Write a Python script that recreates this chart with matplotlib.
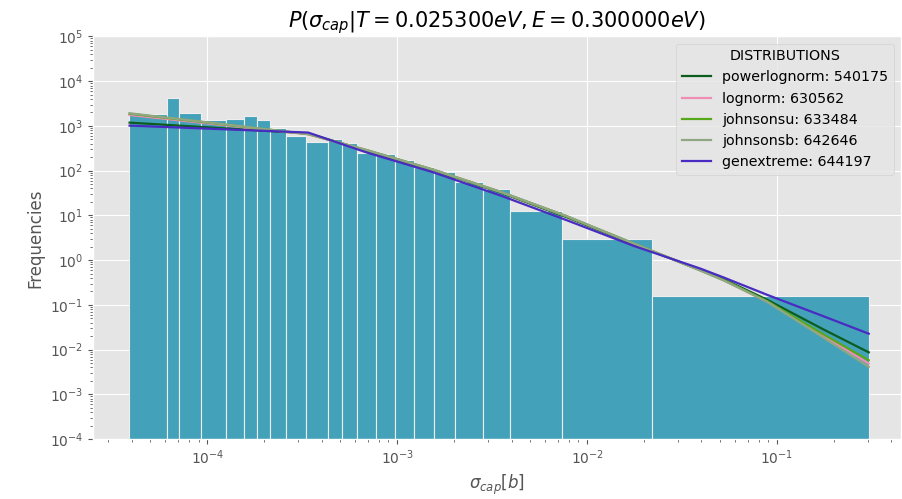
import matplotlib
matplotlib.use("Agg")
from matplotlib import pyplot as plt
import numpy as np

plt.style.use("ggplot")

# histogram bins (sigma_cap in barn) and heights
bin_edges = [3.88e-5, 6.11e-5, 7.11e-5, 9.30e-5, 1.261e-4, 1.569e-4, 1.830e-4,
             2.151e-4, 2.612e-4, 3.326e-4, 4.317e-4, 5.149e-4, 6.109e-4, 7.78e-4,
             9.69e-4, 1.222e-3, 1.569e-3, 2.027e-3, 2.827e-3, 3.95e-3, 7.41e-3,
             2.209e-2, 0.304]
freqs = [1820, 4260, 1910, 1340, 1410, 1640, 1340, 903, 590, 447, 505, 418,
         250, 230, 172, 123, 95, 55, 38, 12.5, 2.93, 0.161]

# fitted pdfs, read at these x positions
fit_x = [3.9e-5, 3.4e-4, 6.9e-4, 1.55e-3, 3.5e-3, 7.85e-3, 1.76e-2, 3.95e-2,
         5.25e-2, 8.9e-2, 0.177, 0.304]
powerlognorm = [1184, 681, 278, 102.6, 32.4, 9.03, 2.27, 0.6, 0.373, 0.129, 0.0278, 0.0087]
lognorm = [1755, 650, 287, 104.5, 33.4, 9.45, 2.34, 0.59, 0.355, 0.118, 0.0198, 0.0049]
johnsonsu = [1876, 654, 288, 105, 33.6, 9.5, 2.35, 0.59, 0.36, 0.12, 0.0215, 0.00578]
johnsonsb = [1920, 656, 289, 105.5, 33.8, 9.55, 2.36, 0.585, 0.35, 0.1166, 0.0182, 0.00413]
genextreme = [1016, 710, 255, 91.7, 27.8, 7.74, 2.08, 0.647, 0.408, 0.167, 0.055, 0.0227]

fits = [
    ("powerlognorm: 540175", powerlognorm, "#0b5d1e"),
    ("lognorm: 630562", lognorm, "#ef8db4"),
    ("johnsonsu: 633484", johnsonsu, "#58a81c"),
    ("johnsonsb: 642646", johnsonsb, "#8fa882"),
    ("genextreme: 644197", genextreme, "#4a2bc2"),
]

fig, ax = plt.subplots(figsize=(9.02, 4.99), dpi=100)
fig.subplots_adjust(left=0.103, right=0.999, top=0.927, bottom=0.12)

ax.bar(bin_edges[:-1], freqs, width=np.diff(bin_edges), align="edge",
       color="#43a1b9", edgecolor="#eeeeee", linewidth=0.8)

for nome, vals, cor in fits:
    ax.plot(fit_x, vals, color=cor, lw=1.6, label=nome)

ax.set_xscale("log")
ax.set_yscale("log")
ax.set_xlim(2.5e-5, 0.45)
ax.set_ylim(1e-4, 1e5)
ax.set_yticks([10.0**k for k in range(-4, 6)])

ax.set_title(r"$P(\sigma_{cap}|T=0.025300eV, E=0.300000eV)$", color="black",
             fontsize=15)
ax.set_xlabel(r"$\sigma_{cap}[b]$")
ax.set_ylabel("Frequencies")
ax.legend(title="DISTRIBUTIONS", loc="upper right", fontsize=10.3,
          title_fontsize=10.3)

fig.savefig("out.png", dpi=100)
